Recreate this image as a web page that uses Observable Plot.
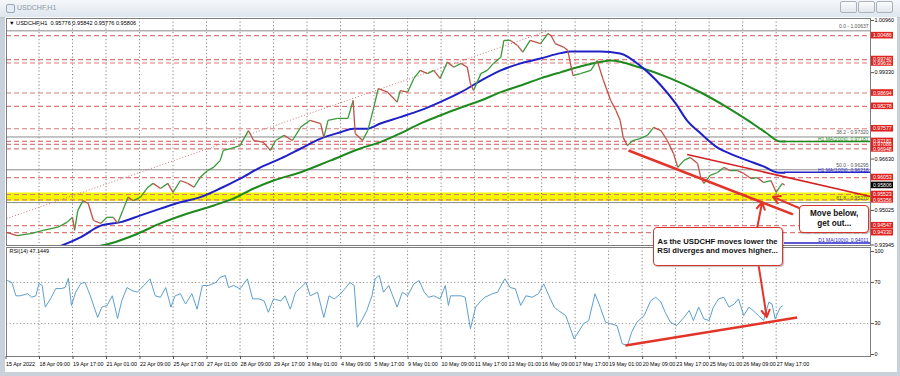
<!DOCTYPE html>
<html><head><meta charset="utf-8">
<script src="https://cdn.jsdelivr.net/npm/d3@7"></script>
<script src="https://cdn.jsdelivr.net/npm/@observablehq/plot@0.6"></script>
<style>
html,body{margin:0;padding:0;}
body{width:900px;height:376px;overflow:hidden;background:#c9d1db;font-family:"Liberation Sans",Arial,sans-serif;position:relative;}
#titlebar{position:absolute;left:0;top:0;width:900px;height:17px;background:linear-gradient(#f4f7fa,#dfe6ee);border-bottom:1px solid #b9c2cc;}
#titlebar .t{position:absolute;left:17px;top:4px;font-size:7px;color:#8d97a3;}
#titlebar .ic{position:absolute;left:6px;top:4px;width:7px;height:7px;border:1px solid #9aa7b6;border-radius:2px;background:#e6ecf3;}
#titlebar .b{position:absolute;top:1px;width:15px;height:10px;border:1px solid #a9b3be;border-radius:2px;background:linear-gradient(#fafbfc,#e3e8ee);}
#bg{position:absolute;left:5px;top:17px;width:892px;height:355px;background:#fff;}
#price,#rsi{position:absolute;left:0;}
#price{top:0;} #rsi{top:245px;}
#hdr{position:absolute;left:9px;top:20px;font-size:5.6px;color:#000;}
.call{position:absolute;box-sizing:border-box;border:1.5px solid #d9342b;border-radius:4px;background:#fff;font-weight:bold;color:#111;display:flex;align-items:center;justify-content:center;text-align:center;line-height:1.25;box-shadow:1px 1px 1px rgba(0,0,0,0.25);}
</style></head>
<body>
<div id="titlebar"><div class="ic"></div><div class="t">USDCHF,H1</div>
<div class="b" style="left:840px"></div><div class="b" style="left:858px"></div><div class="b" style="left:876px"></div></div>
<div id="bg"></div>
<div id="rsi"></div>
<div id="price"></div>
<div id="hdr">▼ USDCHF,H1&nbsp; 0.95776 0.95842 0.95776 0.95806</div>
<script>
// ---------- data (x = hourly bar index from 15 Apr 2022) ----------
const tickIdx = [0,32,64,96,128,160,192,224,256,288,320,352,384,416,448,480,512,544,576,608,640,672,704,736];
const tickLabels = ["15 Apr 2022","18 Apr 09:00","19 Apr 17:00","21 Apr 01:00","22 Apr 09:00","25 Apr 17:00","27 Apr 01:00","28 Apr 09:00","29 Apr 17:00","3 May 01:00","4 May 09:00","5 May 17:00","9 May 01:00","10 May 09:00","11 May 17:00","13 May 01:00","16 May 09:00","17 May 17:00","19 May 01:00","20 May 09:00","23 May 17:00","25 May 01:00","26 May 09:00","27 May 17:00"];

const priceIdx = [1,11,24,36,50,59,64,66,69,74,79,84,91,97,103,107,112,117,122,129,136,141,148,155,160,167,174,180,186,193,199,205,208,215,224,232,237,246,253,258,266,274,282,291,301,304,308,317,327,332,334,341,346,351,356,365,374,377,384,390,396,403,409,415,422,428,435,441,444,447,454,460,466,473,476,482,489,494,501,511,518,521,525,533,537,542,549,559,565,571,578,583,587,590,594,599,606,613,619,626,632,638,642,648,654,661,664,667,673,680,686,692,699,705,712,718,724,731,736,739,742,744];
const priceClose = [0.9434,0.9424,0.9430,0.9440,0.9450,0.9466,0.9481,0.9440,0.9502,0.9533,0.9524,0.9471,0.9462,0.9481,0.9481,0.9462,0.9502,0.9544,0.9533,0.9544,0.9575,0.9587,0.9571,0.9587,0.9559,0.9596,0.9587,0.9575,0.9606,0.9627,0.9638,0.9658,0.9690,0.9696,0.9705,0.9752,0.9721,0.9716,0.9690,0.9721,0.9737,0.9721,0.9763,0.9784,0.9774,0.9731,0.9784,0.9790,0.9790,0.9846,0.9743,0.9721,0.9752,0.9815,0.9883,0.9872,0.9841,0.9877,0.9872,0.9915,0.9940,0.9930,0.9940,0.9915,0.9966,0.9950,0.9962,0.9950,0.9899,0.9877,0.9930,0.9940,0.9962,0.9981,1.0034,1.0034,1.0018,0.9997,1.0034,1.0024,1.0055,1.0049,1.0024,1.0013,1.0002,0.9924,0.9930,0.9940,0.9971,0.9909,0.9846,0.9815,0.9784,0.9730,0.9705,0.9721,0.9727,0.9737,0.9762,0.9752,0.9721,0.9680,0.9637,0.9659,0.9668,0.9649,0.9605,0.9587,0.9612,0.9621,0.9637,0.9627,0.9627,0.9618,0.9602,0.9605,0.9590,0.9596,0.9559,0.9574,0.9587,0.9581];

const maBlueIdx = [50,72,91,110,129,148,167,186,205,224,244,263,282,301,320,332,346,358,377,396,415,435,454,473,492,511,530,540,568,587,606,626,640,651,664,680,692,709,724,737,744];
const maBlue = [0.9388,0.9419,0.9455,0.9466,0.9487,0.9508,0.9528,0.9544,0.9571,0.9602,0.9638,0.9665,0.9696,0.9727,0.9747,0.9758,0.9758,0.9774,0.9794,0.9815,0.9841,0.9872,0.9908,0.9940,0.9962,0.9977,0.9994,0.9999,0.9999,0.9993,0.9955,0.9893,0.9837,0.9783,0.9743,0.9699,0.9680,0.9658,0.9640,0.9621,0.9620];
const maGreenIdx = [84,100,122,148,174,199,218,237,256,282,310,339,358,377,396,415,435,454,473,492,511,530,549,568,578,606,635,664,688,709,726,740,744];
const maGreen = [0.9388,0.9399,0.9424,0.9462,0.9493,0.9518,0.9540,0.9571,0.9596,0.9622,0.9658,0.9696,0.9716,0.9743,0.9774,0.9799,0.9824,0.9846,0.9872,0.9893,0.9915,0.9934,0.9952,0.9966,0.9971,0.9949,0.9915,0.9871,0.9827,0.9784,0.9746,0.9718,0.9718];

const rsiIdx = [2,6,10,14,21,25,29,32,35,38,43,48,53,57,60,63,67,72,76,81,88,92,97,102,107,111,116,121,126,132,138,143,148,153,158,162,167,172,178,183,188,194,201,205,210,213,218,224,231,236,242,247,251,256,263,267,272,277,282,287,291,298,304,309,314,320,325,329,333,336,341,345,350,353,357,361,366,374,379,384,390,395,400,404,409,415,420,423,425,435,439,444,449,454,458,465,470,474,477,482,487,492,497,503,509,514,519,524,528,535,543,547,552,557,563,568,573,578,584,589,594,598,603,610,616,621,626,630,635,641,648,653,657,662,667,672,676,681,686,691,696,700,705,710,714,719,724,729,732,735,740,742];
const rsiVal = [71.8,70,57,57,59,55.7,57,69,67,46,54,64,64,65,74,47.6,60.5,69,70,57,36,46,47.6,57,35,52,65,62,60.5,67,73.5,57,55.6,65,46,57,59,49,59,44,67,67,70,75,76.7,65,67,63.8,73.5,54,54,52,41,54,52,57,44,60.5,65,70,57,60.5,36,57,54,59,65,70,67,26.5,34.6,42.7,57,73.5,76.7,60.5,67,46,60.5,57,68.6,71.8,60.5,55.6,57,54,67,47.6,57,57,55.6,25,46,52,55.6,59,60.5,68.6,73.5,65,63.8,47.6,57,55.6,59,68.6,57,46,42.7,37.9,15.2,21.7,29.8,33,59,46,31.4,29.8,28,10.4,8.7,21.7,31.4,37.9,52,55.6,50.8,41,31.4,28,36,42.7,33,46,34.6,33,46,54,55.6,46,49,54,37.9,46,42.7,37.9,33,50.8,49,34.6,46,47.1];

const priceTicks = [1.00960,0.99330,0.96630,0.95025,0.93945];
const redLevels = [1.00486,0.99740,0.99632,0.98694,0.98278,0.97577,0.97181,0.97086,0.96948,0.96053,0.95523,0.95356,0.94547,0.94330];
const bandLow = 0.95356, bandHigh = 0.95523;
const currentPrice = 0.95806;
const fibValues = [1.00637,0.97320,0.96295,0.95270];
const fibNames = ["0.0","38.2","50.0","61.8"];
const maLevelNames = ["H1 MA(200)0: 0.97181","H1 MA(100)0: 0.96218","D1 MA(100)0: 0.94011"];
const maLevelValues = [0.97181,0.96218,0.94011];
const maLevelColors = ["#1e8a1e","#2424c8","#2424c8"];
const rsiTicks = [0,30,70,100];
const rsiName = "RSI(14) 47.1449";

// ---------- layout ----------
const xDomain = [0.955, 826.1];
const xMax = xDomain[1];
const RED = "#e3342a";
const fmt5 = d3.format(".5f");

const pricePts = d3.zip(priceIdx, priceClose);
const segs = d3.pairs(pricePts).map(([a,b]) => ({x1:a[0],y1:a[1],x2:b[0],y2:b[1],up:b[1]>=a[1]}));
const fib = fibValues.map((v,i)=>({v, t: fibNames[i] + " - " + fmt5(v)}));
const maLv = maLevelValues.map((v,i)=>({v, t: maLevelNames[i], c: maLevelColors[i]}));

const pricePlot = Plot.plot({
  width: 900, height: 247, marginLeft: 6, marginRight: 30, marginTop: 18, marginBottom: 2,
  style: {background: "none", fontFamily: "Liberation Sans, Arial, sans-serif", overflow: "visible"},
  x: {domain: xDomain, axis: null},
  y: {domain: [0.93929, 1.010225], axis: null},
  marks: [
    Plot.rect([{lo: bandLow, hi: bandHigh}], {x1: xDomain[0], x2: xMax, y1: "lo", y2: "hi", fill: "#f6f600", insetTop: -1.5, insetBottom: -1.5}),
    Plot.gridX(tickIdx.slice(1), {stroke: "#222", strokeOpacity: 0.7, strokeDasharray: "1.2,2.3", strokeWidth: 0.8}),
    Plot.ruleY(fibValues, {stroke: "#8a8a8a", strokeWidth: 1}),
    Plot.ruleY(redLevels, {stroke: "#d87c7c", strokeDasharray: "5,3", strokeWidth: 1.2}),
    Plot.link([{a: 1, b: 0.9477, c: 518, d: 1.00637}], {x1: "a", y1: "b", x2: "c", y2: "d", stroke: "#c76a6a", strokeDasharray: "1,2", strokeWidth: 0.9}),
    Plot.text(fib, {x: xMax, y: "v", text: "t", textAnchor: "end", dx: -2, dy: -4.3, fill: "#555", fontSize: 5}),
    Plot.ruleY(maLv, {y: "v", x1: 744, x2: xMax, stroke: "c", strokeWidth: 1.5}),
    Plot.text(maLv, {x: xMax, y: "v", text: "t", fill: "c", textAnchor: "end", dx: -2, dy: -2, fontSize: 5}),
    Plot.line(d3.zip(maGreenIdx, maGreen), {x: d=>d[0], y: d=>d[1], stroke: "#1e8a1e", strokeWidth: 2, curve: "monotone-x", clip: true}),
    Plot.line(d3.zip(maBlueIdx, maBlue), {x: d=>d[0], y: d=>d[1], stroke: "#2020c8", strokeWidth: 2, curve: "monotone-x", clip: true}),
    Plot.link(segs.filter(d=>d.up), {x1:"x1",y1:"y1",x2:"x2",y2:"y2", stroke: "#3a9a3a", strokeWidth: 1.3}),
    Plot.link(segs.filter(d=>!d.up), {x1:"x1",y1:"y1",x2:"x2",y2:"y2", stroke: "#c0524a", strokeWidth: 1.3}),
    // annotations
    Plot.link([{a: 595, b: 0.96898, c: 752, d: 0.94900}], {x1:"a",y1:"b",x2:"c",y2:"d", stroke: RED, strokeWidth: 2.5}),
    Plot.link([{a: 651, b: 0.96773, c: xMax, d: 0.95460}], {x1:"a",y1:"b",x2:"c",y2:"d", stroke: "#d42020", strokeWidth: 1.5}),
    Plot.arrow([{a: 759, b: 0.95085, c: 733, d: 0.9545}], {x1:"a",y1:"b",x2:"c",y2:"d", stroke: RED, strokeWidth: 2, headLength: 6}),
    Plot.arrow([{a: 718, b: 0.94501, c: 722.6, d: 0.95282}], {x1:"a",y1:"b",x2:"c",y2:"d", stroke: RED, strokeWidth: 2, headLength: 6}),
    Plot.frame({stroke: "#7d7d7d"}),
    // right price axis
    Plot.axisY(priceTicks, {anchor: "right", tickSize: 3, tickPadding: 1, tickFormat: fmt5, fontSize: 5.4, fill: "#000", stroke: "#555"}),
    Plot.rect(redLevels, {x1: xMax, x2: xMax, y1: d=>d, y2: d=>d, insetLeft: 1, insetRight: -23, insetTop: -3.3, insetBottom: -3.3, fill: "#e0231f"}),
    Plot.text(redLevels, {x: xMax, y: d=>d, text: d=>fmt5(d), textAnchor: "start", dx: 2.5, fill: "#fff", fontSize: 5.2}),
    Plot.rect([currentPrice], {x1: xMax, x2: xMax, y1: d=>d, y2: d=>d, insetLeft: 1, insetRight: -23, insetTop: -3.3, insetBottom: -3.3, fill: "#000"}),
    Plot.text([currentPrice], {x: xMax, y: d=>d, text: d=>fmt5(d), textAnchor: "start", dx: 2.5, fill: "#fff", fontSize: 5.2})
  ]
});
document.getElementById("price").appendChild(pricePlot);

const rsiPlot = Plot.plot({
  width: 900, height: 131, marginLeft: 6, marginRight: 30, marginTop: 2, marginBottom: 20,
  style: {background: "none", fontFamily: "Liberation Sans, Arial, sans-serif", overflow: "visible"},
  x: {domain: xDomain, axis: null},
  y: {domain: [-1.94, 103.9], axis: null},
  marks: [
    Plot.gridX(tickIdx.slice(1), {stroke: "#222", strokeOpacity: 0.7, strokeDasharray: "1.2,2.3", strokeWidth: 0.8}),
    Plot.ruleY([30, 70], {stroke: "#777", strokeDasharray: "1.2,2.3", strokeWidth: 0.8}),
    Plot.line(d3.zip(rsiIdx, rsiVal), {x: d=>d[0], y: d=>d[1], stroke: "#5e9fcf", strokeWidth: 1}),
    Plot.link([{a: 592, b: 8.7, c: 756, d: 35.9}], {x1:"a",y1:"b",x2:"c",y2:"d", stroke: RED, strokeWidth: 2.5}),
    Plot.arrow([{a: 719.5, b: 84.8, c: 727, d: 36.2}], {x1:"a",y1:"b",x2:"c",y2:"d", stroke: RED, strokeWidth: 2, headLength: 6}),
    Plot.text([rsiName], {frameAnchor: "top-left", dx: 3, dy: 2, text: d=>d, fontSize: 5.4, fill: "#000"}),
    Plot.frame({stroke: "#7d7d7d"}),
    Plot.axisY(rsiTicks, {anchor: "right", tickSize: 3, tickPadding: 1, fontSize: 5.4, fill: "#000", stroke: "#555"}),
    Plot.axisX(tickIdx, {anchor: "bottom", tickSize: 3, tickPadding: 3, textAnchor: "start", dx: 0.5, fontSize: 5.4, fill: "#000", stroke: "#555",
      tickFormat: d => tickLabels[tickIdx.indexOf(d)]})
  ]
});
document.getElementById("rsi").appendChild(rsiPlot);

// ---------- callouts placed with the chart scales ----------
const sx = pricePlot.scale("x"), sy = pricePlot.scale("y");
function callout(idx, price, w, h, fs, html) {
  const d = document.createElement("div");
  d.className = "call";
  d.style.left = sx.apply(idx) + "px";
  d.style.top = sy.apply(price) + "px";
  d.style.width = w + "px"; d.style.height = h + "px";
  d.style.fontSize = fs + "px";
  d.innerHTML = html;
  document.body.appendChild(d);
}
callout(758.5, 0.95179, 70, 28, 8.2, "Move below,<br>get out...");
callout(618.5, 0.94501, 130, 39, 7.7, "As the USDCHF moves lower the<br>RSI diverges and moves higher...");
</script>
</body></html>
